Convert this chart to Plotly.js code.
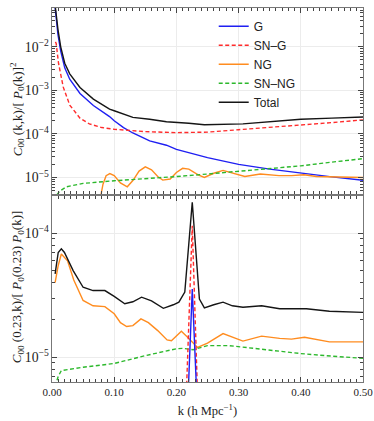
<!DOCTYPE html>
<html>
<head>
<meta charset="utf-8">
<script src="https://cdn.plot.ly/plotly-3.0.1.min.js"></script>
<style>
  body { margin: 0; background: #fff; }
  #plot { width: 374px; height: 421px; }
</style>
</head>
<body>
<div id="plot"></div>
<script>
// top panel: C00(k,k)/[P0(k)]^2
var kG = [0.004, 0.0067, 0.0096, 0.014, 0.0205, 0.0285, 0.045, 0.0665, 0.0925, 0.1, 0.115, 0.13, 0.157, 0.184, 0.2, 0.25, 0.3, 0.35, 0.4, 0.45, 0.5];
var topG = [1.1e-1, 4.0e-2, 1.9e-2, 8.0e-3, 3.3e-3, 1.8e-3, 8.5e-4, 4.5e-4, 2.5e-4, 2.0e-4, 1.4e-4, 1.05e-4, 6.9e-5, 5.5e-5, 4.4e-5, 2.85e-5, 2.0e-5, 1.55e-5, 1.25e-5, 1.03e-5, 8.6e-6];

var kSNG = [0.0055, 0.0067, 0.0105, 0.018, 0.0285, 0.045, 0.06, 0.08, 0.1, 0.15, 0.2, 0.25, 0.3, 0.35, 0.4, 0.45, 0.5];
var topSNG = [1.3e-2, 1.2e-2, 4.2e-3, 1.2e-3, 4.6e-4, 2.3e-4, 1.7e-4, 1.4e-4, 1.28e-4, 1.13e-4, 1.07e-4, 1.1e-4, 1.25e-4, 1.4e-4, 1.58e-4, 1.82e-4, 2.1e-4];

var kNG = [0.078, 0.082, 0.087, 0.093, 0.1, 0.11, 0.121, 0.13, 0.14, 0.15, 0.16, 0.17, 0.178, 0.19, 0.2, 0.21, 0.22, 0.235, 0.245, 0.26, 0.275, 0.29, 0.31, 0.335, 0.365, 0.385, 0.405, 0.425, 0.45, 0.475, 0.5];
var topNG = [3.5e-6, 7e-6, 1.1e-5, 1.23e-5, 1.1e-5, 7.5e-6, 6.1e-6, 8.5e-6, 1.4e-5, 1.75e-5, 1.5e-5, 1.05e-5, 8.7e-6, 9.2e-6, 1.3e-5, 1.62e-5, 1.55e-5, 1.15e-5, 1.0e-5, 1.25e-5, 1.45e-5, 1.25e-5, 1.05e-5, 1.2e-5, 1.1e-5, 1.1e-5, 1.15e-5, 1.05e-5, 1.03e-5, 1.05e-5, 1.0e-5];

var kSNNG = [0.008, 0.012, 0.023, 0.05, 0.1, 0.15, 0.2, 0.25, 0.3, 0.35, 0.4, 0.45, 0.5];
var topSNNG = [4.0e-6, 4.8e-6, 6.1e-6, 7.3e-6, 8.4e-6, 9.3e-6, 1.05e-5, 1.2e-5, 1.37e-5, 1.6e-5, 1.85e-5, 2.25e-5, 2.7e-5];

var kTot = [0.004, 0.0067, 0.0096, 0.014, 0.0205, 0.0285, 0.045, 0.0665, 0.0925, 0.1, 0.13, 0.157, 0.184, 0.22, 0.245, 0.307, 0.35, 0.4, 0.45, 0.5];
var topTot = [1.2e-1, 5.5e-2, 2.5e-2, 1.0e-2, 4.2e-3, 2.4e-3, 1.17e-3, 6.3e-4, 3.7e-4, 3.4e-4, 2.4e-4, 2.17e-4, 1.9e-4, 1.76e-4, 1.63e-4, 1.7e-4, 1.9e-4, 2.17e-4, 2.3e-4, 2.45e-4];

// bottom panel: C00(0.23,k)/[P0(0.23)P0(k)]
var kG2 = [0.2195, 0.2255, 0.232];
var botG = [6e-6, 3.55e-5, 6e-6];

var kSNG2 = [0.2165, 0.2255, 0.2335];
var botSNG = [6e-6, 1.15e-4, 6e-6];

var kNG2 = [0.005, 0.01, 0.015, 0.025, 0.035, 0.05, 0.066, 0.085, 0.1, 0.11, 0.12, 0.13, 0.143, 0.155, 0.17, 0.185, 0.192, 0.208, 0.218, 0.234, 0.25, 0.275, 0.307, 0.337, 0.366, 0.385, 0.406, 0.446, 0.5];
var botNG = [4.0e-5, 5.5e-5, 6.8e-5, 6.0e-5, 4.2e-5, 2.87e-5, 2.6e-5, 2.56e-5, 2.24e-5, 1.9e-5, 1.77e-5, 1.8e-5, 2.04e-5, 1.9e-5, 1.64e-5, 1.38e-5, 1.36e-5, 1.62e-5, 1.45e-5, 1.2e-5, 1.3e-5, 1.55e-5, 1.35e-5, 1.48e-5, 1.42e-5, 1.4e-5, 1.45e-5, 1.33e-5, 1.33e-5];

var kSNNG2 = [0.005, 0.01, 0.015, 0.03, 0.05, 0.1, 0.15, 0.2, 0.21, 0.227, 0.25, 0.285, 0.335, 0.4, 0.45, 0.5];
var botSNNG = [5.8e-6, 7.0e-6, 7.8e-6, 8.0e-6, 8.3e-6, 8.9e-6, 1.03e-5, 1.17e-5, 1.18e-5, 1.15e-5, 1.24e-5, 1.24e-5, 1.16e-5, 1.07e-5, 1.02e-5, 9.8e-6];

var kTot2 = [0.005, 0.01, 0.015, 0.02, 0.034, 0.05, 0.066, 0.085, 0.1, 0.117, 0.13, 0.144, 0.16, 0.179, 0.195, 0.204, 0.2135, 0.2255, 0.237, 0.245, 0.26, 0.275, 0.29, 0.307, 0.337, 0.366, 0.409, 0.446, 0.5];
var botTot = [4.7e-5, 7.0e-5, 7.5e-5, 7.0e-5, 5.0e-5, 3.67e-5, 3.45e-5, 3.45e-5, 3.1e-5, 2.7e-5, 2.8e-5, 3.05e-5, 2.85e-5, 2.48e-5, 2.65e-5, 2.78e-5, 3.35e-5, 1.78e-4, 2.95e-5, 2.5e-5, 2.65e-5, 2.78e-5, 2.6e-5, 2.53e-5, 2.6e-5, 2.46e-5, 2.46e-5, 2.35e-5, 2.3e-5];

var cBlue = '#1f1ff2', cRed = '#ff2b2b', cOrange = '#ff8c1f', cGreen = '#2cb82c', cBlack = '#151515';
var shortDash = '4px,2.5px';

function line(x, y, name, color, dash, ax, show) {
  return {
    x: x, y: y, name: name, type: 'scatter', mode: 'lines',
    xaxis: ax[0], yaxis: ax[1], showlegend: show,
    line: {color: color, width: 1.4, dash: dash}
  };
}

var data = [
  line(kG, topG, 'G', cBlue, 'solid', ['x2', 'y2'], true),
  line(kSNG, topSNG, 'SN–G', cRed, shortDash, ['x2', 'y2'], true),
  line(kNG, topNG, 'NG', cOrange, 'solid', ['x2', 'y2'], true),
  line(kSNNG, topSNNG, 'SN–NG', cGreen, shortDash, ['x2', 'y2'], true),
  line(kTot, topTot, 'Total', cBlack, 'solid', ['x2', 'y2'], true),
  line(kNG2, botNG, 'NG', cOrange, 'solid', ['x', 'y'], false),
  line(kSNNG2, botSNNG, 'SN–NG', cGreen, shortDash, ['x', 'y'], false),
  line(kTot2, botTot, 'Total', cBlack, 'solid', ['x', 'y'], false),
  line(kSNG2, botSNG, 'SN–G', cRed, shortDash, ['x', 'y'], false),
  line(kG2, botG, 'G', cBlue, 'solid', ['x', 'y'], false)
];

var serif = 'Liberation Serif, DejaVu Serif, serif';
var frame = {
  showline: true, linecolor: '#777', linewidth: 1, mirror: 'allticks',
  ticks: 'inside', ticklen: 5, tickcolor: '#444', tickwidth: 1,
  gridcolor: '#ececec', zeroline: false,
  tickfont: {family: serif, size: 11, color: '#222'}
};
var xminor = {ticks: 'inside', ticklen: 3, tickcolor: '#444', dtick: 0.01, showgrid: false};
var yminor = {ticks: 'inside', ticklen: 3, tickcolor: '#444', dtick: 'D1', showgrid: false};

// y titles placed as rotated annotations so they sit where the reference has them
var yTitleTop = '<i>C</i><sub>00</sub> (k,k)/[ <i>P</i><sub>0</sub>(k)]<sup>2</sup>';
var yTitleBot = '<i>C</i><sub>00</sub> (0.23,k)/[ <i>P</i><sub>0</sub>(0.23) <i>P</i><sub>0</sub>(k)]';

var layout = {
  width: 374, height: 421,
  margin: {l: 52, r: 11, t: 8, b: 39},
  paper_bgcolor: '#fff', plot_bgcolor: '#fff',
  showlegend: true,
  legend: {
    x: 0.52, y: 0.99, xanchor: 'left', yanchor: 'top',
    bgcolor: 'rgba(0,0,0,0)',
    font: {family: 'Liberation Sans, Arial, sans-serif', size: 12, color: '#222'}
  },
  xaxis: Object.assign({}, frame, {
    anchor: 'y', range: [0, 0.5], dtick: 0.1, tickformat: '.2f', minor: xminor,
    title: {text: 'k (h Mpc<sup>−1</sup>)', font: {family: serif, size: 12.5, color: '#222'}, standoff: 9}
  }),
  xaxis2: Object.assign({}, frame, {
    anchor: 'y2', matches: 'x', range: [0, 0.5], dtick: 0.1, showticklabels: false, minor: xminor
  }),
  yaxis: Object.assign({}, frame, {
    domain: [0, 0.497], type: 'log', range: [-5.2, -3.7], dtick: 1,
    exponentformat: 'power', minor: yminor
  }),
  yaxis2: Object.assign({}, frame, {
    domain: [0.503, 1], type: 'log', range: [-5.377, -1.108], dtick: 1,
    exponentformat: 'power', minor: yminor
  }),
  annotations: [
    {text: yTitleTop, xref: 'paper', yref: 'paper', x: -0.112, y: 0.73,
     xanchor: 'center', yanchor: 'middle', textangle: -90, showarrow: false,
     font: {family: serif, size: 13, color: '#222'}},
    {text: yTitleBot, xref: 'paper', yref: 'paper', x: -0.112, y: 0.254,
     xanchor: 'center', yanchor: 'middle', textangle: -90, showarrow: false,
     font: {family: serif, size: 13, color: '#222'}}
  ]
};

Plotly.newPlot('plot', data, layout, {displayModeBar: false, staticPlot: true});
</script>
</body>
</html>
